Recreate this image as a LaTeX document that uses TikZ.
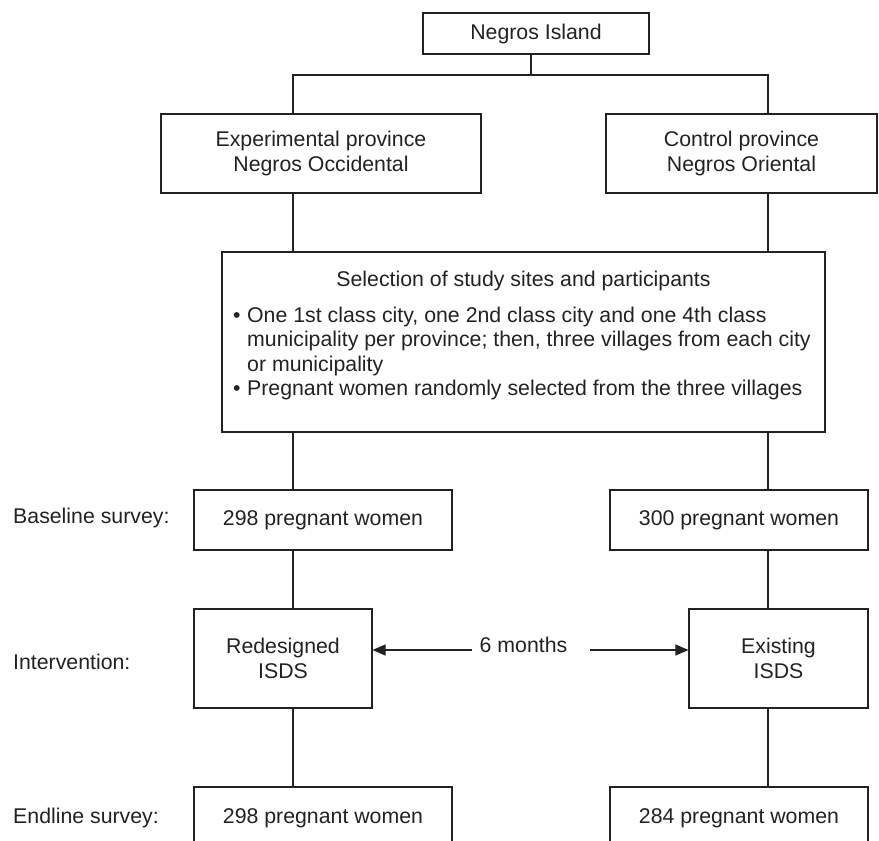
\documentclass[tikz,border=0pt]{standalone}
\usepackage{fontspec}
\setmainfont{Liberation Sans}
\usetikzlibrary{arrows.meta}
\definecolor{ink}{HTML}{222222}
\begin{document}
\begin{tikzpicture}[x=1pt,y=-1pt,
  every node/.style={font=\fontsize{21.3pt}{24.5pt}\selectfont, text=ink, inner sep=0pt},
  box/.style={draw=ink, line width=1.1pt, align=center},
  conn/.style={draw=ink, line width=1.1pt},
  arr/.style={draw=ink, line width=1.1pt, -{Triangle[length=13pt,width=11pt]}},
  lab/.style={anchor=west},
  line/.style={anchor=base west}]
\useasboundingbox (0,0) rectangle (879,841);
\clip (0,0) rectangle (879,841);
% boxes
\node[box, minimum width=226pt, minimum height=41pt] (ni) at (536,33.5) {Negros Island};
\node[box, minimum width=320pt, minimum height=79pt] (lp) at (321,153.5) {Experimental province\\Negros Occidental};
\node[box, minimum width=271pt, minimum height=79pt] (rp) at (741.5,153.5) {Control province\\Negros Oriental};
\node[box, minimum width=603pt, minimum height=180pt] (sel) at (523.5,342) {};
\node (selt) at (523.5,281) {Selection of study sites and participants};
\node[line] (s1) at (233,322.5) {•\hspace{6.5pt}One 1st class city, one 2nd class city and one 4th class};
\node[line] (s2) at (247,346.5) {municipality per province; then, three villages from each city};
\node[line] (s3) at (247,371) {or municipality};
\node[line] (s4) at (233,395) {•\hspace{6.5pt}Pregnant women randomly selected from the three villages};
\node[box, minimum width=258pt, minimum height=60pt] (bl) at (323,520) {298 pregnant women};
\node[box, minimum width=258pt, minimum height=60pt] (br) at (739,520) {300 pregnant women};
\node[box, minimum width=178pt, minimum height=99pt] (il) at (283,658.5) {Redesigned\\ISDS};
\node[box, minimum width=179pt, minimum height=99pt] (ir) at (778.5,658.5) {Existing\\ISDS};
\node[box, minimum width=258pt, minimum height=62pt] (el) at (323,818) {298 pregnant women};
\node[box, minimum width=258pt, minimum height=62pt] (er) at (739,818) {284 pregnant women};
% row labels
\node[lab] (lb) at (13,518) {Baseline survey:};
\node[lab] (li) at (13,662) {Intervention:};
\node[lab] (le) at (13,818) {Endline survey:};
\node (m6) at (523.5,645) {6 months};
% connector columns
\coordinate (xl) at (293,0);
\coordinate (xr) at (768,0);
\coordinate (j) at (531,75);
\coordinate (al) at (472,650);
\coordinate (ar) at (590,650);
\draw[conn] (ni.south -| j) -- (j);
\draw[conn] (lp.north -| xl) |- (j) -| (rp.north -| xr);
\draw[conn] (lp.south -| xl) -- (sel.north -| xl);
\draw[conn] (rp.south -| xr) -- (sel.north -| xr);
\draw[conn] (sel.south -| xl) -- (bl.north -| xl);
\draw[conn] (sel.south -| xr) -- (br.north -| xr);
\draw[conn] (bl.south -| xl) -- (il.north -| xl);
\draw[conn] (br.south -| xr) -- (ir.north -| xr);
\draw[conn] (il.south -| xl) -- (el.north -| xl);
\draw[conn] (ir.south -| xr) -- (er.north -| xr);
\draw[arr] (al) -- (al -| il.east);
\draw[arr] (ar) -- (ar -| ir.west);
\end{tikzpicture}
\end{document}
